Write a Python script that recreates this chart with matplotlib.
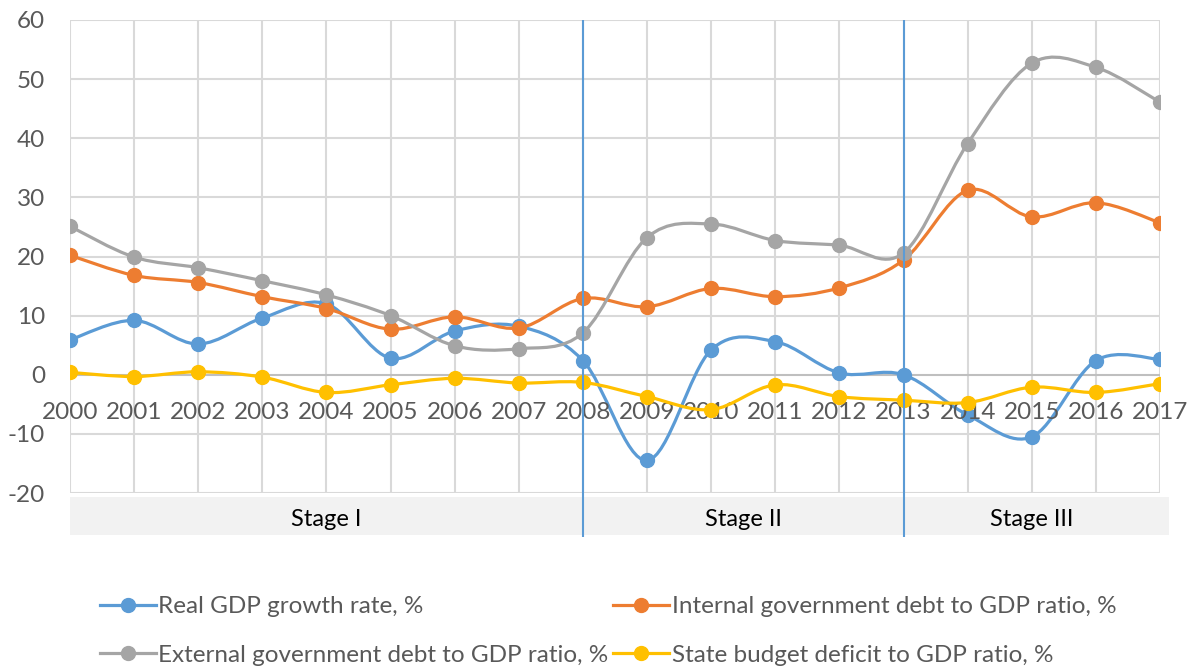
import matplotlib.pyplot as plt
import numpy as np
from matplotlib.lines import Line2D
from matplotlib.path import Path
from matplotlib.patches import PathPatch

plt.rcParams["font.family"] = ["Lato", "DejaVu Sans"]
plt.rcParams["axes.unicode_minus"] = False

years = [str(y) for y in range(2000, 2018)]

real_gdp = [5.9, 9.2, 5.2, 9.6, 12.0, 2.8, 7.4, 8.2, 2.4, -14.5,
            4.2, 5.6, 0.3, 0.0, -6.8, -10.5, 2.4, 2.6]
internal_debt = [20.2, 16.8, 15.6, 13.2, 11.2, 7.7, 9.8, 7.9, 12.9, 11.5,
                 14.6, 13.2, 14.7, 19.4, 31.2, 26.7, 29.1, 25.7]
external_debt = [25.1, 19.9, 18.1, 15.9, 13.5, 10.0, 4.9, 4.4, 7.1, 23.2,
                 25.5, 22.7, 21.9, 20.6, 39.1, 52.7, 52.0, 46.1]
budget_deficit = [0.4, -0.3, 0.5, -0.4, -3.0, -1.7, -0.6, -1.4, -1.3, -3.7,
                  -5.9, -1.7, -3.7, -4.3, -4.7, -2.1, -3.0, -1.5]

series_labels = [
    "Real GDP growth rate, %",
    "Internal government debt to GDP ratio, %",
    "External government debt to GDP ratio, %",
    "State budget deficit to GDP ratio, %",
]
series_colors = ["#5b9bd5", "#ed7d31", "#a5a5a5", "#ffc000"]

stage_names = ["Stage I", "Stage II", "Stage III"]
stage_bounds = [0, 8, 13, 17]  # category positions of stage borders

TEXT = "#595959"
W, H = 1192, 666


def smooth_path(x, y):
    """Excel-like smoothed line as cubic Bezier segments."""
    pts = np.column_stack([x, y]).astype(float)
    n = len(pts)
    verts = [pts[0]]
    codes = [Path.MOVETO]
    for i in range(n - 1):
        p0 = pts[i - 1] if i > 0 else pts[i]
        p1 = pts[i]
        p2 = pts[i + 1]
        p3 = pts[i + 2] if i + 2 < n else pts[i + 1]
        c1 = p1 + (p2 - p0) / 6.0
        c2 = p2 - (p3 - p1) / 6.0
        verts += [c1, c2, p2]
        codes += [Path.CURVE4] * 3
    return Path(verts, codes)


fig = plt.figure(figsize=(W / 100, H / 100), dpi=100)
ax = fig.add_axes([70 / W, 1 - 493 / H, (1160 - 70) / W, (493 - 20) / H])
ax.set_xlim(0, len(years) - 1)
ax.set_ylim(-20, 60)

x = np.arange(len(years))
for xi in x:
    ax.axvline(xi, color="#d9d9d9", lw=1.5, zorder=0)
for yv in range(-20, 61, 10):
    ax.axhline(yv, color="#bfbfbf" if yv == 0 else "#d9d9d9", lw=1.5,
               zorder=0.5 if yv == 0 else 0)

all_series = [real_gdp, internal_debt, external_debt, budget_deficit]
for k, (vals, col) in enumerate(zip(all_series, series_colors)):
    patch = PathPatch(smooth_path(x, vals), fill=False, edgecolor=col, lw=2.3,
                      capstyle="round", joinstyle="round", zorder=2 + k)
    ax.add_patch(patch)
    ax.plot(x, vals, "o", color=col, markersize=10, zorder=2 + k)

for b in stage_bounds[1:-1]:
    ax.axvline(b, color="#5b9bd5", lw=1.5, zorder=10)

for s in ax.spines.values():
    s.set_visible(False)
ax.set_xticks([])
ax.set_yticks(range(-20, 61, 10))
ax.tick_params(axis="y", length=0, pad=18, labelsize=17.5, labelcolor=TEXT)

# category labels sit just under the zero line
for xi, lab in zip(x, years):
    ax.annotate(lab, (xi, 0), xytext=(0, -27), textcoords="offset points",
                ha="center", va="center", fontsize=17.5, color=TEXT)

# stage band under the plot
bx_max = (len(years) - 1) * (1169 - 70) / (1160 - 70)
bax = fig.add_axes([70 / W, 1 - 537 / H, (1169 - 70) / W, (537 - 493) / H])
bax.set_xlim(0, bx_max)
bax.set_ylim(0, 1)
bax.axis("off")
bax.axhspan(2 / 44, 40 / 44, xmin=0, xmax=1, color="#f2f2f2", lw=0, zorder=0)
for b in stage_bounds[1:-1]:
    bax.axvline(b, color="#5b9bd5", lw=1.5, zorder=2)
for name, a, b in zip(stage_names, stage_bounds[:-1], stage_bounds[1:]):
    bax.text((a + b) / 2, 18 / 44, name, ha="center", va="center",
             fontsize=17, color="black")

handles = [Line2D([], [], color=c, lw=2.3, marker="o", markersize=10) for c in series_colors]
order = [0, 2, 1, 3]
fig.legend([handles[i] for i in order], [series_labels[i] for i in order],
           ncol=2, loc="upper left", bbox_to_anchor=(100 / W, 1 - 596 / H),
           frameon=False, fontsize=17.5, labelcolor=TEXT, handlelength=2.3,
           handletextpad=0.1, columnspacing=0.2, labelspacing=1.15,
           borderaxespad=0, borderpad=0)

fig.savefig("out.png", dpi=100)
